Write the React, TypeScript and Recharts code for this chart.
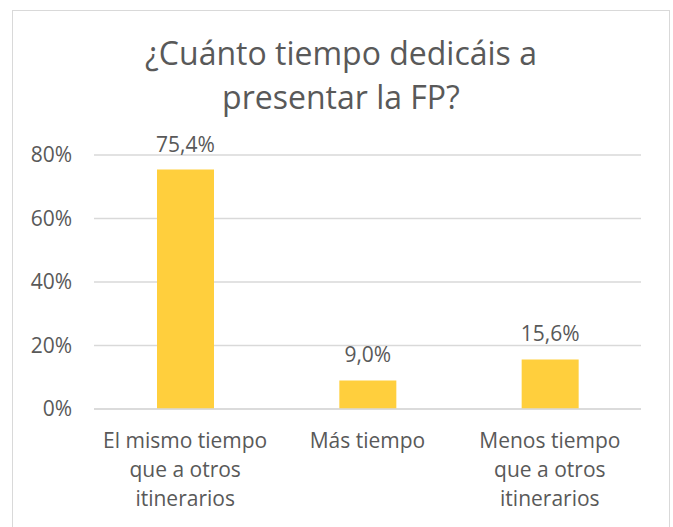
import React from "react";
import { BarChart, Bar, XAxis, YAxis, CartesianGrid, LabelList } from "recharts";

const title = ["¿Cuánto tiempo dedicáis a", "presentar la FP?"];
const categories = [
  "El mismo tiempo que a otros itinerarios",
  "Más tiempo",
  "Menos tiempo que a otros itinerarios",
];
const categoryLines = [
  ["El mismo tiempo", "que a otros", "itinerarios"],
  ["Más tiempo"],
  ["Menos tiempo", "que a otros", "itinerarios"],
];
const values = [75.4, 9.0, 15.6];
const yTicks = [0, 20, 40, 60, 80];

const data = categories.map((c, i) => ({ name: c, value: values[i], idx: i }));

const FONT = "'Open Sans', sans-serif";
const TEXT = "#595959";

const XTick = (props: any) => {
  const { x, y, payload } = props;
  const lines = categoryLines[payload.index] || [payload.value];
  return (
    <g>
      {lines.map((l: string, i: number) => (
        <text
          key={i}
          x={x}
          y={y + 39 + i * 29}
          textAnchor="middle"
          fill={TEXT}
          fontSize={21}
          fontFamily={FONT}
        >
          {l}
        </text>
      ))}
    </g>
  );
};

export default function App() {
  return (
    <div
      style={{
        position: "absolute",
        left: 12,
        top: 10,
        width: 658,
        height: 530,
        border: "1px solid #D9D9D9",
        boxSizing: "border-box",
        background: "#fff",
      }}
    >
      <div
        style={{
          position: "absolute",
          left: 0,
          top: 20,
          width: 656,
          textAlign: "center",
          fontFamily: FONT,
          fontSize: 32,
          lineHeight: "44px",
          color: TEXT,
        }}
      >
        {title.map((t, i) => (
          <div key={i}>{t}</div>
        ))}
      </div>
      <BarChart
        width={656}
        height={518}
        data={data}
        margin={{ top: 144, right: 28, bottom: 0, left: 0 }}
      >
        <CartesianGrid vertical={false} stroke="#D9D9D9" strokeWidth={1.5} />
        <XAxis
          dataKey="name"
          height={120}
          tickLine={false}
          tickSize={0}
          tickMargin={0}
          axisLine={{ stroke: "#D9D9D9", strokeWidth: 1.5 }}
          tick={<XTick />}
          interval={0}
        />
        <YAxis
          width={81}
          domain={[0, 80]}
          ticks={yTicks}
          axisLine={false}
          tickLine={false}
          tickSize={0}
          tickMargin={22}
          tickFormatter={(v: number) => `${v}%`}
          tick={{ fill: TEXT, fontSize: 21, fontFamily: FONT }}
        />
        <Bar dataKey="value" fill="#FFCF3D" barSize={57} isAnimationActive={false}>
          <LabelList
            dataKey="value"
            position="top"
            offset={18}
            fill={TEXT}
            fontSize={21}
            fontFamily={FONT}
            formatter={(v: number) => `${v.toFixed(1).replace(".", ",")}%`}
          />
        </Bar>
      </BarChart>
    </div>
  );
}
